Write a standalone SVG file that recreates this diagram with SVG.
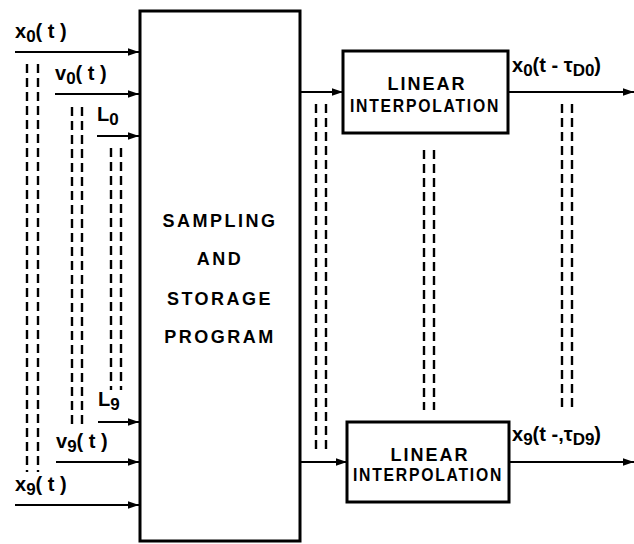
<svg xmlns="http://www.w3.org/2000/svg" width="634" height="544" viewBox="0 0 634 544">
<defs>
<marker id="ah" viewBox="0 0 10 10" refX="10" refY="5" markerWidth="11" markerHeight="11" markerUnits="userSpaceOnUse" orient="auto"><path d="M0,1.5 L10,5 L0,8.5 Z" fill="#000"/></marker>
<style>
.box{fill:#fff;stroke:#000;stroke-width:3}
.ln{stroke:#000;stroke-width:2.2;fill:none}
.dash{stroke:#000;stroke-width:2.4;stroke-dasharray:9,5;fill:none}
.t{font-family:"Liberation Sans",Arial,sans-serif;font-weight:bold;fill:#000}
.lab{font-size:20px}
.sub{font-size:17px}
.big{font-size:18px;letter-spacing:2.5px}
.li{font-size:18px;letter-spacing:2px}
</style>
</defs>
<rect width="634" height="544" fill="#fff"/>
<g id="connectors">
<line class="ln" x1="15" y1="52" x2="139" y2="52" marker-end="url(#ah)"/>
<line class="ln" x1="55" y1="94" x2="139" y2="94" marker-end="url(#ah)"/>
<line class="ln" x1="97" y1="136" x2="139" y2="136" marker-end="url(#ah)"/>
<line class="ln" x1="98" y1="422" x2="139" y2="422" marker-end="url(#ah)"/>
<line class="ln" x1="56" y1="462" x2="139" y2="462" marker-end="url(#ah)"/>
<line class="ln" x1="15" y1="505" x2="139" y2="505" marker-end="url(#ah)"/>
<line class="ln" x1="301" y1="92" x2="343" y2="92" marker-end="url(#ah)"/>
<line class="ln" x1="301" y1="462" x2="347" y2="462" marker-end="url(#ah)"/>
<line class="ln" x1="509" y1="92" x2="634" y2="92" marker-end="url(#ah)"/>
<line class="ln" x1="510" y1="462" x2="634" y2="462" marker-end="url(#ah)"/>
<line class="dash" x1="27" y1="64" x2="27" y2="472"/>
<line class="dash" x1="38" y1="64" x2="38" y2="472"/>
<line class="dash" x1="72" y1="107" x2="72" y2="428"/>
<line class="dash" x1="82" y1="107" x2="82" y2="428"/>
<line class="dash" x1="111" y1="148" x2="111" y2="390"/>
<line class="dash" x1="121" y1="148" x2="121" y2="390"/>
<line class="dash" x1="316" y1="104" x2="316" y2="450"/>
<line class="dash" x1="326" y1="104" x2="326" y2="450"/>
<line class="dash" x1="424" y1="150" x2="424" y2="410"/>
<line class="dash" x1="434" y1="150" x2="434" y2="410"/>
<line class="dash" x1="562" y1="104" x2="562" y2="410"/>
<line class="dash" x1="572" y1="104" x2="572" y2="410"/>
</g>
<g id="sampling">
<rect class="box" x="140" y="11" width="160" height="530"/>
<text class="t big" x="220" y="227" text-anchor="middle">SAMPLING</text>
<text class="t big" x="220" y="265" text-anchor="middle">AND</text>
<text class="t big" x="220" y="305" text-anchor="middle">STORAGE</text>
<text class="t big" x="220" y="343" text-anchor="middle">PROGRAM</text>
</g>
<g id="interp0">
<rect class="box" x="343" y="51" width="165" height="82"/>
<text class="t li" x="427" y="90" text-anchor="middle">LINEAR</text>
<text class="t li" x="425" y="112" text-anchor="middle" textLength="150" lengthAdjust="spacingAndGlyphs">INTERPOLATION</text>
</g>
<g id="interp9">
<rect class="box" x="347" y="422" width="162" height="80"/>
<text class="t li" x="430" y="461" text-anchor="middle">LINEAR</text>
<text class="t li" x="428" y="481" text-anchor="middle" textLength="150" lengthAdjust="spacingAndGlyphs">INTERPOLATION</text>
</g>
<g id="labels">
<text class="t lab" x="15" y="38">x<tspan class="sub" dy="4">0</tspan><tspan dy="-4">( t )</tspan></text>
<text class="t lab" x="55" y="80">v<tspan class="sub" dy="4">0</tspan><tspan dy="-4">( t )</tspan></text>
<text class="t lab" x="97" y="121">L<tspan class="sub" dy="4">0</tspan></text>
<text class="t lab" x="98" y="406">L<tspan class="sub" dy="4">9</tspan></text>
<text class="t lab" x="56" y="448">v<tspan class="sub" dy="4">9</tspan><tspan dy="-4">( t )</tspan></text>
<text class="t lab" x="15" y="491">x<tspan class="sub" dy="4">9</tspan><tspan dy="-4">( t )</tspan></text>
<text class="t lab" x="512" y="72">x<tspan class="sub" dy="4">0</tspan><tspan dy="-4">(t - τ</tspan><tspan class="sub" dy="4">D0</tspan><tspan dy="-4">)</tspan></text>
<text class="t lab" x="512" y="441">x<tspan class="sub" dy="4">9</tspan><tspan dy="-4">(t -,τ</tspan><tspan class="sub" dy="4">D9</tspan><tspan dy="-4">)</tspan></text>
</g>
</svg>
